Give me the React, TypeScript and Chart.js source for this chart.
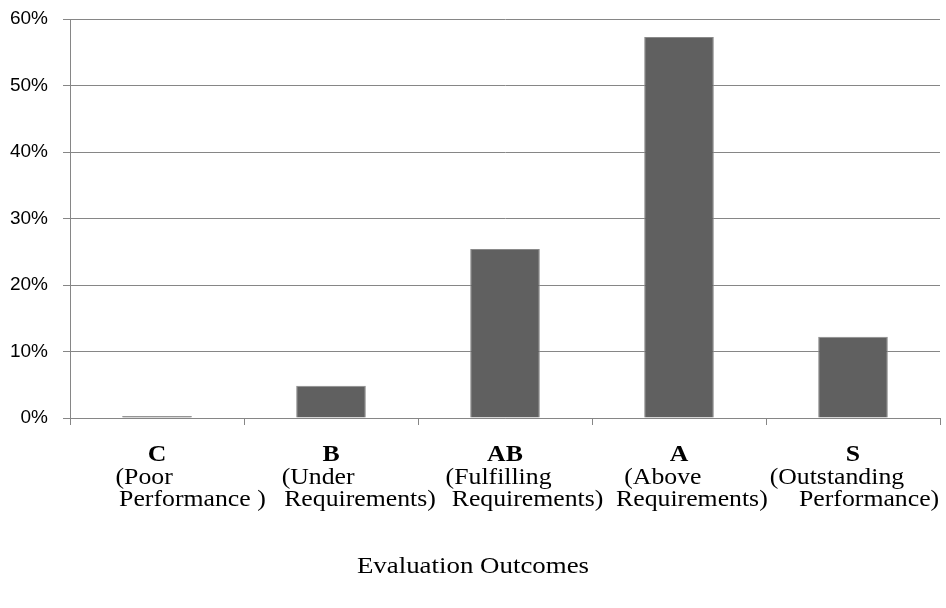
import React, { useEffect, useRef } from "react";
import { Chart, registerables } from "chart.js";

Chart.register(...registerables);

const grades = ["C", "B", "AB", "A", "S"];
const descLine1 = ["(Poor    ", "(Under    ", "(Fulfilling  ", "(Above     ", "(Outstanding     "];
const descLine2 = [
  "           Performance )",
  "         Requirements)",
  "       Requirements)",
  "    Requirements)",
  "     Performance)",
];
const shares = [0.3, 4.85, 25.4, 57.3, 12.2];
const yMax = 60;
const yStep = 10;
const xTitle = "Evaluation Outcomes";

const GRID = "#868686";

function drawStretched(ctx: CanvasRenderingContext2D, text: string, x: number, y: number, font: string) {
  ctx.save();
  ctx.font = font;
  ctx.translate(x, y);
  ctx.scale(1.12, 1);
  ctx.fillText(text, 0, 0);
  ctx.restore();
}

const labelPlugin = {
  id: "catLabels",
  afterDraw(chart: any) {
    const ctx: CanvasRenderingContext2D = chart.ctx;
    const xs = chart.scales.x;
    ctx.save();
    ctx.fillStyle = "#000";
    ctx.textAlign = "center";
    ctx.textBaseline = "alphabetic";
    const bold = 'bold 23px "Liberation Serif"';
    const reg = '23px "Liberation Serif"';
    grades.forEach((g, i) => {
      const x = xs.getPixelForValue(i);
      const base = xs.top + 43;
      drawStretched(ctx, g, x, base, bold);
      drawStretched(ctx, descLine1[i], x, base + 22.5, reg);
      drawStretched(ctx, descLine2[i], x, base + 45, reg);
    });
    drawStretched(ctx, xTitle, chart.width / 2, xs.top + 155, '24px "Liberation Serif"');
    ctx.restore();
  },
};

export default function App() {
  const ref = useRef<HTMLCanvasElement | null>(null);
  useEffect(() => {
    if (!ref.current) return;
    const chart = new Chart(ref.current, {
      type: "bar",
      data: {
        labels: grades,
        datasets: [
          {
            data: shares,
            backgroundColor: "#606060",
            borderColor: "#8a8a8a",
            borderWidth: 1,
            barPercentage: 0.4,
            categoryPercentage: 1,
          },
        ],
      },
      options: {
        animation: false,
        responsive: false,
        layout: { padding: { top: 19, right: 6, left: 0, bottom: 0 } },
        plugins: { legend: { display: false }, tooltip: { enabled: false } },
        scales: {
          x: {
            offset: true,
            grid: { offset: true, drawOnChartArea: false, drawTicks: true, tickLength: 7, color: GRID },
            border: { color: GRID },
            ticks: { callback: () => "", font: { size: 1 } },
            afterFit: (s: any) => {
              s.height = 190;
              s.paddingLeft = 0;
              s.paddingRight = 0;
            },
          },
          y: {
            min: 0,
            max: yMax,
            grid: { color: GRID, tickLength: 7, drawTicks: true },
            border: { color: GRID },
            ticks: {
              stepSize: yStep,
              padding: 15,
              color: "#000",
              font: { family: '"Liberation Sans", Arial, sans-serif', size: 19 },
              callback: (v: any) => v + "%",
            },
            afterFit: (s: any) => {
              s.width = 70;
              s.paddingTop = 0;
              s.paddingBottom = 0;
            },
          },
        },
      },
      plugins: [labelPlugin],
    });
    return () => chart.destroy();
  }, []);
  return (
    <div style={{ position: "absolute", left: 0, top: 0, width: 946, height: 608, background: "#fff" }}>
      <canvas ref={ref} width={946} height={608} style={{ display: "block" }} />
    </div>
  );
}
